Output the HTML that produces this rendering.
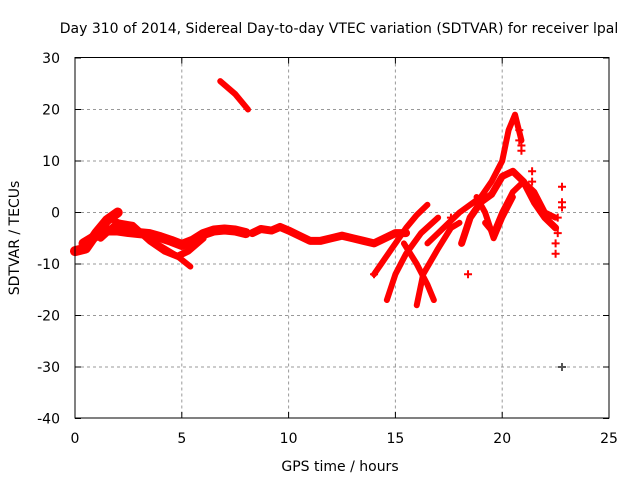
<!DOCTYPE html>
<html><head><meta charset="utf-8"><style>
body{margin:0;background:#fff;}
svg{display:block;font-family:"DejaVu Sans","Liberation Sans",sans-serif;}
</style></head><body>
<svg id="chart" width="640" height="480">
<text x="339" y="33" text-anchor="middle" font-size="14" fill="#000">Day 310 of 2014, Sidereal Day-to-day VTEC variation (SDTVAR) for receiver lpal</text>
<text x="340" y="471" text-anchor="middle" font-size="14">GPS time / hours</text>
<text x="19" y="238" text-anchor="middle" font-size="14" transform="rotate(-90 19 238)">SDTVAR / TECUs</text>
<g id="grid"></g>
<g id="marks"></g>
<rect x="75" y="57.5" width="534" height="360.5" fill="none" stroke="#000"/>
<g id="ticks"></g>
</svg>
<script>
const xTicks=[0,5,10,15,20,25];
const yTicks=[30,20,10,0,-10,-20,-30,-40];
const arcHigh_x=[6.8,7.5,8.1], arcHigh_y=[25.5,23,20];
const a1_x=[0,0.5,1,1.5,2], a1_y=[-7.5,-7,-4,-1.5,0];
const a2_x=[0.4,1,1.5,2,2.5,3,3.5,4,4.5,5,5.5,6,6.5,7,7.5,8], a2_y=[-6,-4.5,-3.5,-3.5,-3.8,-4,-4.2,-4.8,-5.5,-6.3,-5.5,-4.2,-3.5,-3.3,-3.5,-4];
const a3_x=[1.8,2.4,3,3.6,4.2,4.8,5.4], a3_y=[-1.5,-2.5,-4,-5.5,-7,-8.5,-10.5];
const a4_x=[1.2,2,2.7,3.5,4.2,4.8,5.3,6], a4_y=[-5,-2,-2.5,-5.5,-7.5,-8.5,-7.5,-5];
const mid_x=[8.3,8.7,9.2,9.6,10,10.5,11,11.5,12,12.5,13,13.5,14,14.5,15,15.5], mid_y=[-4,-3.2,-3.5,-2.8,-3.5,-4.5,-5.5,-5.5,-5,-4.5,-5,-5.5,-6,-5,-4,-4];
const r1_x=[14,14.5,15,15.5,16,16.5], r1_y=[-12,-9,-6,-3,-0.5,1.5];
const r2_x=[14.6,15,15.5,16.2,17], r2_y=[-17,-12,-8,-4,-1];
const r3_x=[15.4,16,16.5,16.8], r3_y=[-6,-10,-14,-17];
const r4_x=[16,16.3,17,17.6,18], r4_y=[-18,-12,-7,-3,-2];
const r5_x=[16.5,17,17.5,18,18.5,19,19.5,20,20.3,20.6,20.9], r5_y=[-6,-4,-2,0,1.5,3,6,10,16,19,14];
const r6_x=[18.1,18.5,19,19.5,20,20.5,21,21.5,22,22.5], r6_y=[-6,-1,2,3.5,7,8,6,2,-1,-3];
const r7_x=[19.2,19.6,20,20.5,21,21.5,22,22.5], r7_y=[-2,-4,0,4,6,4,0,-1];
const r8_x=[18.8,19.2,19.6,20,20.5], r8_y=[3,0,-5,-1,3];
const pts_x=[20.8,20.8,20.9,20.9,21.4,21.4,22.6,22.6,22.5,22.5,22.8,22.8,22.8,22.8,18.4,14.0,17.6], pts_y=[16,14,13,12,8,6,-1,-4,-6,-8,5,2,1,-30,-12,-12,-1];
const X=h=>75+h*534/25, Y=v=>212.5-v*5.15;
const NS="http://www.w3.org/2000/svg";
const grid=document.getElementById('grid'), ticks=document.getElementById('ticks'), marks=document.getElementById('marks');
function mk(tag,at,parent){const e=document.createElementNS(NS,tag);for(const k in at)e.setAttribute(k,at[k]);parent.appendChild(e);return e;}
xTicks.forEach(t=>{
 if(t>0&&t<25){const l=mk('line',{x1:X(t),x2:X(t),y1:57.5,y2:418,stroke:'#999','stroke-dasharray':'3,3'},grid);
 
 }
 mk('line',{x1:X(t),x2:X(t),y1:418,y2:412,stroke:'#000'},ticks);
 mk('line',{x1:X(t),x2:X(t),y1:57.5,y2:63.5,stroke:'#000'},ticks);
 const tx=mk('text',{x:X(t),y:443,'text-anchor':'middle','font-size':14},ticks);tx.textContent=t;
 
 
});
yTicks.forEach(t=>{
 if(t<30&&t>-40){const l=mk('line',{x1:75,x2:609,y1:Y(t),y2:Y(t),stroke:'#999','stroke-dasharray':'3,3'},grid);
 
 }
 mk('line',{x1:75,x2:81,y1:Y(t),y2:Y(t),stroke:'#000'},ticks);
 mk('line',{x1:609,x2:603,y1:Y(t),y2:Y(t),stroke:'#000'},ticks);
 const tx=mk('text',{x:60,y:Y(t)+5,'text-anchor':'end','font-size':14},ticks);tx.textContent=t;
 
 
});
const arcs=[[arcHigh_x,arcHigh_y,6],[a1_x,a1_y,10],[a2_x,a2_y,10],[a3_x,a3_y,6],[a4_x,a4_y,7],[mid_x,mid_y,8],[r1_x,r1_y,6],[r2_x,r2_y,6],[r3_x,r3_y,6],[r4_x,r4_y,6],[r5_x,r5_y,6],[r6_x,r6_y,7],[r7_x,r7_y,6],[r8_x,r8_y,6]];
arcs.forEach(([xs,ys,w])=>{
 const p=mk('polyline',{points:xs.map((x,i)=>X(x)+','+Y(ys[i])).join(' '),fill:'none',stroke:'#f00','stroke-width':w,'stroke-linejoin':'round','stroke-linecap':'round'},marks);
 
 
});
pts_x.forEach((x,i)=>{
 const cx=X(x), cy=Y(pts_y[i]);
 const col=pts_y[i]<-25?'#555':'#f00';
 const p=mk('path',{d:`M${cx-4},${cy}H${cx+4}M${cx},${cy-4}V${cy+4}`,stroke:col,'stroke-width':2},marks);
 
 
});
</script>
</body></html>
